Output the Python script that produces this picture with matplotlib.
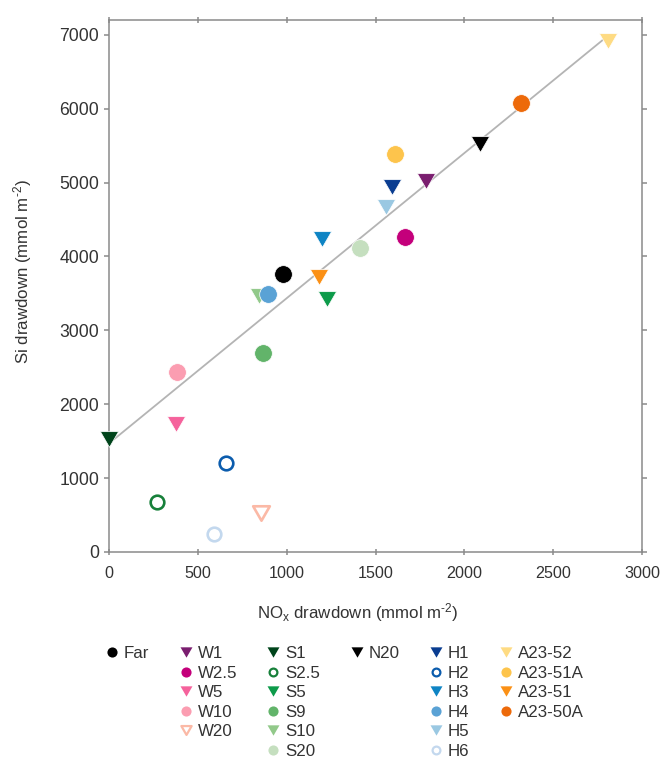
import matplotlib
matplotlib.use("Agg")
import matplotlib.pyplot as plt
from matplotlib.lines import Line2D
from matplotlib.path import Path
import numpy as np

plt.rcParams['font.family'] = ['Liberation Sans', 'DejaVu Sans']
plt.rcParams['mathtext.fontset'] = 'custom'
plt.rcParams['mathtext.rm'] = 'Liberation Sans'
plt.rcParams['mathtext.it'] = 'Liberation Sans:italic'

# ---- data ----
labels = ['Far',
          'W1', 'W2.5', 'W5', 'W10', 'W20',
          'S1', 'S2.5', 'S5', 'S9', 'S10', 'S20',
          'N20',
          'H1', 'H2', 'H3', 'H4', 'H5', 'H6',
          'A23-52', 'A23-51A', 'A23-51', 'A23-50A']
groups = ['Far',
          'W', 'W', 'W', 'W', 'W',
          'S', 'S', 'S', 'S', 'S', 'S',
          'N',
          'H', 'H', 'H', 'H', 'H', 'H',
          'A', 'A', 'A', 'A']
nox_drawdown = [980,
                1785, 1665, 375, 380, 855,
                0, 270, 1225, 865, 845, 1415,
                2090,
                1595, 660, 1200, 895, 1560, 590,
                2810, 1610, 1180, 2320]
si_drawdown = [3760,
               5020, 4260, 1730, 2430, 525,
               1530, 670, 3420, 2690, 3460, 4120,
               5520,
               4940, 1200, 4240, 3485, 4670, 240,
               6920, 5390, 3720, 6070]
fit_x = [0, 2810]
fit_y = [1470, 6990]

xticks = [0, 500, 1000, 1500, 2000, 2500, 3000]
yticks = [0, 1000, 2000, 3000, 4000, 5000, 6000, 7000]

# ---- styles ----
shapes = ['o',
          'v', 'o', 'v', 'o', 'v',
          'v', 'o', 'v', 'o', 'v', 'o',
          'v',
          'v', 'o', 'v', 'o', 'v', 'o',
          'v', 'o', 'v', 'o']
filled = [True,
          True, True, True, True, False,
          True, False, True, True, True, True,
          True,
          True, False, True, True, True, False,
          True, True, True, True]
colors = ['#000000',
          '#7a1e6f', '#c4007b', '#f5629c', '#fb9db1', '#fbb9a6',
          '#00441b', '#17803a', '#0d9b4a', '#62b46a', '#92c98a', '#c5dfbf',
          '#000000',
          '#0a3d91', '#0b5cad', '#0e84c4', '#5aa2d5', '#9ac8e2', '#c3d8ee',
          '#fedb83', '#fdc44c', '#fb9015', '#ed6a0a']

tri = Path([(-1, 0.866), (1, 0.866), (0, -0.866), (-1, 0.866)], closed=True)

TXT = '#333333'
SPINE = '#8a8a8a'

fig = plt.figure(figsize=(6.66, 7.63), dpi=100)
W, H = 666, 763
ax = fig.add_axes([109 / W, 1 - 552 / H, 533 / W, 532 / H])

ax.plot(fit_x, fit_y, color='#b4b4b4', lw=1.3, zorder=1)

proxies = {}
for lab, g, x, y, shp, f, c in zip(labels, groups, nox_drawdown, si_drawdown,
                                   shapes, filled, colors):
    m = tri if shp == 'v' else 'o'
    if f:
        ms = 13 if shp == 'v' else 12.7
        ax.plot([x], [y], linestyle='none', marker=m, ms=ms, mfc=c,
                mec='white', mew=0.5, zorder=3, clip_on=False)
        lms = 8.6 if shp == 'v' else 7.3
        proxies[lab] = Line2D([], [], linestyle='none', marker=m, ms=lms,
                              mfc=c, mec='none')
    else:
        ms = 12 if shp == 'v' else 9.8
        ax.plot([x], [y], linestyle='none', marker=m, ms=ms, mfc='white',
                mec=c, mew=1.9, zorder=3, clip_on=False)
        lms = 7.4 if shp == 'v' else 5.6
        proxies[lab] = Line2D([], [], linestyle='none', marker=m, ms=lms,
                              mfc='white', mec=c, mew=1.6)

ax.set_xlim(0, 3000)
ax.set_ylim(0, 7200)
ax.set_xticks(xticks)
ax.set_yticks(yticks)

for s in ax.spines.values():
    s.set_color(SPINE)
    s.set_linewidth(1.1)

ax.tick_params(axis='both', which='both', color=SPINE, width=1.1, length=3.6,
               direction='out', top=True, right=True, labelcolor=TXT)
ax.tick_params(axis='x', which='both', bottom=True, direction='inout',
               length=4.5, labelsize=11.6, pad=7.5)
ax.tick_params(axis='x', which='both', top=True)
ax.tick_params(axis='y', labelsize=12.7, pad=3.5)

ax.set_xlabel(r'NO$_\mathregular{x}$ drawdown (mmol m$^{\text{-2}}$)',
              fontsize=12.2, color=TXT)
ax.xaxis.set_label_coords((358 - 109) / 533, -0.092)
ax.set_ylabel(r'Si drawdown (mmol m$^{\text{-2}}$)', fontsize=12.2, color=TXT)
ax.yaxis.set_label_coords(-0.141, (552 - 271.5) / 532)

# ---- legend: one column per group, padded to 6 rows ----
order = ['Far', 'W', 'S', 'N', 'H', 'A']
nrows = 6
leg_h, leg_l = [], []
blank = Line2D([], [], linestyle='none', marker=None)
for g in order:
    labs = [l for l, gg in zip(labels, groups) if gg == g]
    for l in labs:
        leg_h.append(proxies[l])
        leg_l.append(l)
    for _ in range(nrows - len(labs)):
        leg_h.append(blank)
        leg_l.append('')

fig.legend(leg_h, leg_l, loc='upper left', bbox_to_anchor=(106 / W, 1 - 646 / H),
           ncol=6, frameon=False, borderpad=0, borderaxespad=0,
           handlelength=0.7, handletextpad=0.35, columnspacing=1.8,
           labelspacing=0.27, fontsize=12.2, labelcolor=TXT)

fig.savefig('out.png', dpi=100)
